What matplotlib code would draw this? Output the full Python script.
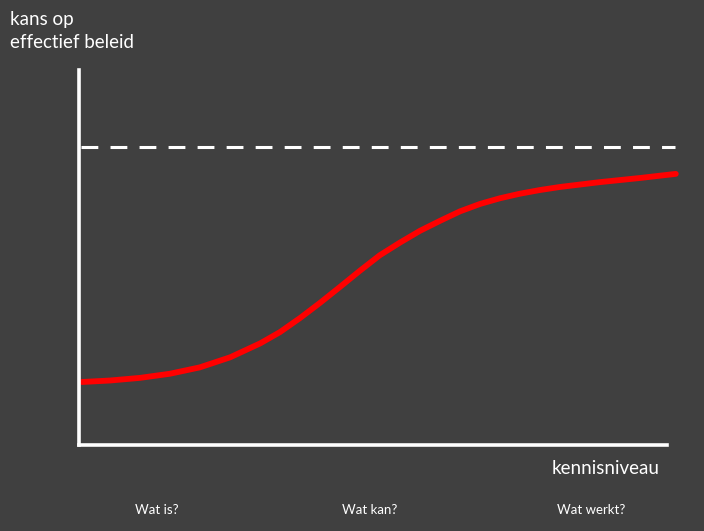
import matplotlib.pyplot as plt

plt.rcParams['font.family'] = ['Lato', 'DejaVu Sans']

# kennisniveau (0-100) en kans op effectief beleid (0-100)
kennis = [0.5, 5.2, 10.2, 15.2, 20.2, 25.3, 30.3, 33.6, 37.0, 40.3, 43.6,
          47.0, 50.3, 53.7, 57.0, 60.4, 63.7, 67.1, 70.4, 73.7, 77.1, 80.4,
          87.1, 93.8, 99.8]
kans = [16.8, 17.2, 17.9, 19.0, 20.7, 23.4, 27.1, 30.1, 33.9, 37.9, 42.1,
        46.5, 50.6, 54.0, 57.1, 59.8, 62.3, 64.3, 65.8, 67.0, 68.0, 68.8,
        70.1, 71.2, 72.3]
maximum = 79.5
fasen = ['Wat is?', 'Wat kan?', 'Wat werkt?']
fase_x = [157, 370, 591]

bg = '#404040'
fig = plt.figure(figsize=(7.04, 5.31), dpi=100, facecolor=bg)
ax = fig.add_axes([79 / 704, 86 / 531, 598 / 704, 375 / 531])
ax.set_facecolor(bg)
ax.set_xlim(0, 100)
ax.set_ylim(0, 100)

# assen
for s in ['top', 'right']:
    ax.spines[s].set_visible(False)
ax.spines['left'].set_color('white')
ax.spines['left'].set_linewidth(2.6)
ax.spines['bottom'].set_color('white')
ax.spines['bottom'].set_linewidth(2.6)
ax.spines['bottom'].set_bounds(0, 98.3)
ax.set_xticks([])
ax.set_yticks([])

# maximum (gestippeld) en de curve
ax.axhline(maximum, xmin=0.003, xmax=0.997, color='white', lw=2.2,
           linestyle=(0, (5.5, 4)))
ax.plot(kennis, kans, color='#ff0000', lw=4.2, solid_capstyle='round',
        solid_joinstyle='round', clip_on=False)

# teksten
fig.text(10 / 704, 1 - 31 / 531, 'kans op\neffectief beleid', color='white',
         fontsize=13.5, va='center', ha='left', linespacing=1.45)
fig.text(552 / 704, 1 - 469 / 531, 'kennisniveau', color='white',
         fontsize=13.5, va='center', ha='left')
for label, px in zip(fasen, fase_x):
    fig.text(px / 704, 1 - 510 / 531, label, color='white', fontsize=9.5,
             va='center', ha='center')

plt.savefig('out.png', dpi=100, facecolor=bg)
